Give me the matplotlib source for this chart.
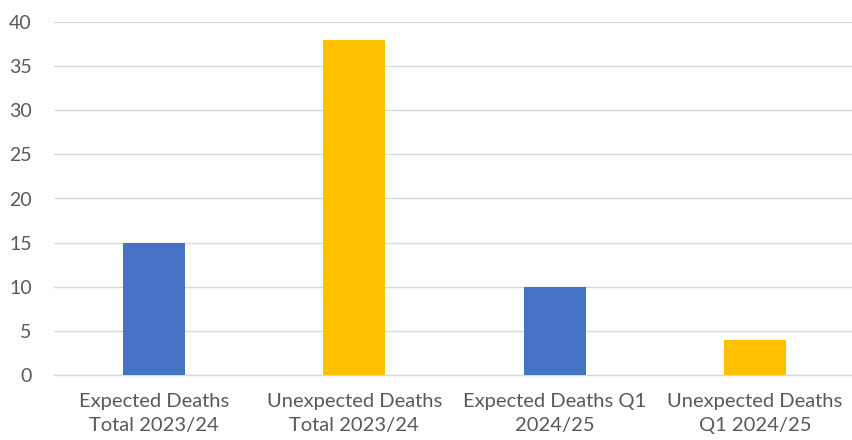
import matplotlib
matplotlib.use("Agg")
import matplotlib.pyplot as plt

categories = ["Expected Deaths\nTotal 2023/24", "Unexpected Deaths\nTotal 2023/24",
              "Expected Deaths Q1\n2024/25", "Unexpected Deaths\nQ1 2024/25"]
values = [15, 38, 10, 4]
colors = ["#4472C4", "#FFC000", "#4472C4", "#FFC000"]
yticks = [0, 5, 10, 15, 20, 25, 30, 35, 40]

plt.rcParams["font.family"] = ["Lato", "DejaVu Sans"]

fig = plt.figure(figsize=(8.53, 4.40), dpi=100)
ax = fig.add_axes([54 / 853, 65 / 440, 801 / 853, 353 / 440])

x = range(len(categories))
ax.bar(x, values, width=0.31, color=colors, zorder=3)

ax.set_xlim(-0.5, 3.5)
ax.set_ylim(0, 40)
ax.set_yticks(yticks)
ax.set_xticks(list(x))
ax.set_xticklabels(categories, fontsize=14.5, color="#595959", linespacing=1.5)
ax.tick_params(axis="y", labelsize=14, labelcolor="#595959", length=0, pad=16)
ax.tick_params(axis="x", length=0, pad=13)

ax.grid(axis="y", color="#D9D9D9", linewidth=1, zorder=0)
for s in ["top", "right", "left"]:
    ax.spines[s].set_visible(False)
ax.spines["bottom"].set_color("#D9D9D9")
ax.spines["bottom"].set_linewidth(1)

fig.savefig("out.png", dpi=100)
